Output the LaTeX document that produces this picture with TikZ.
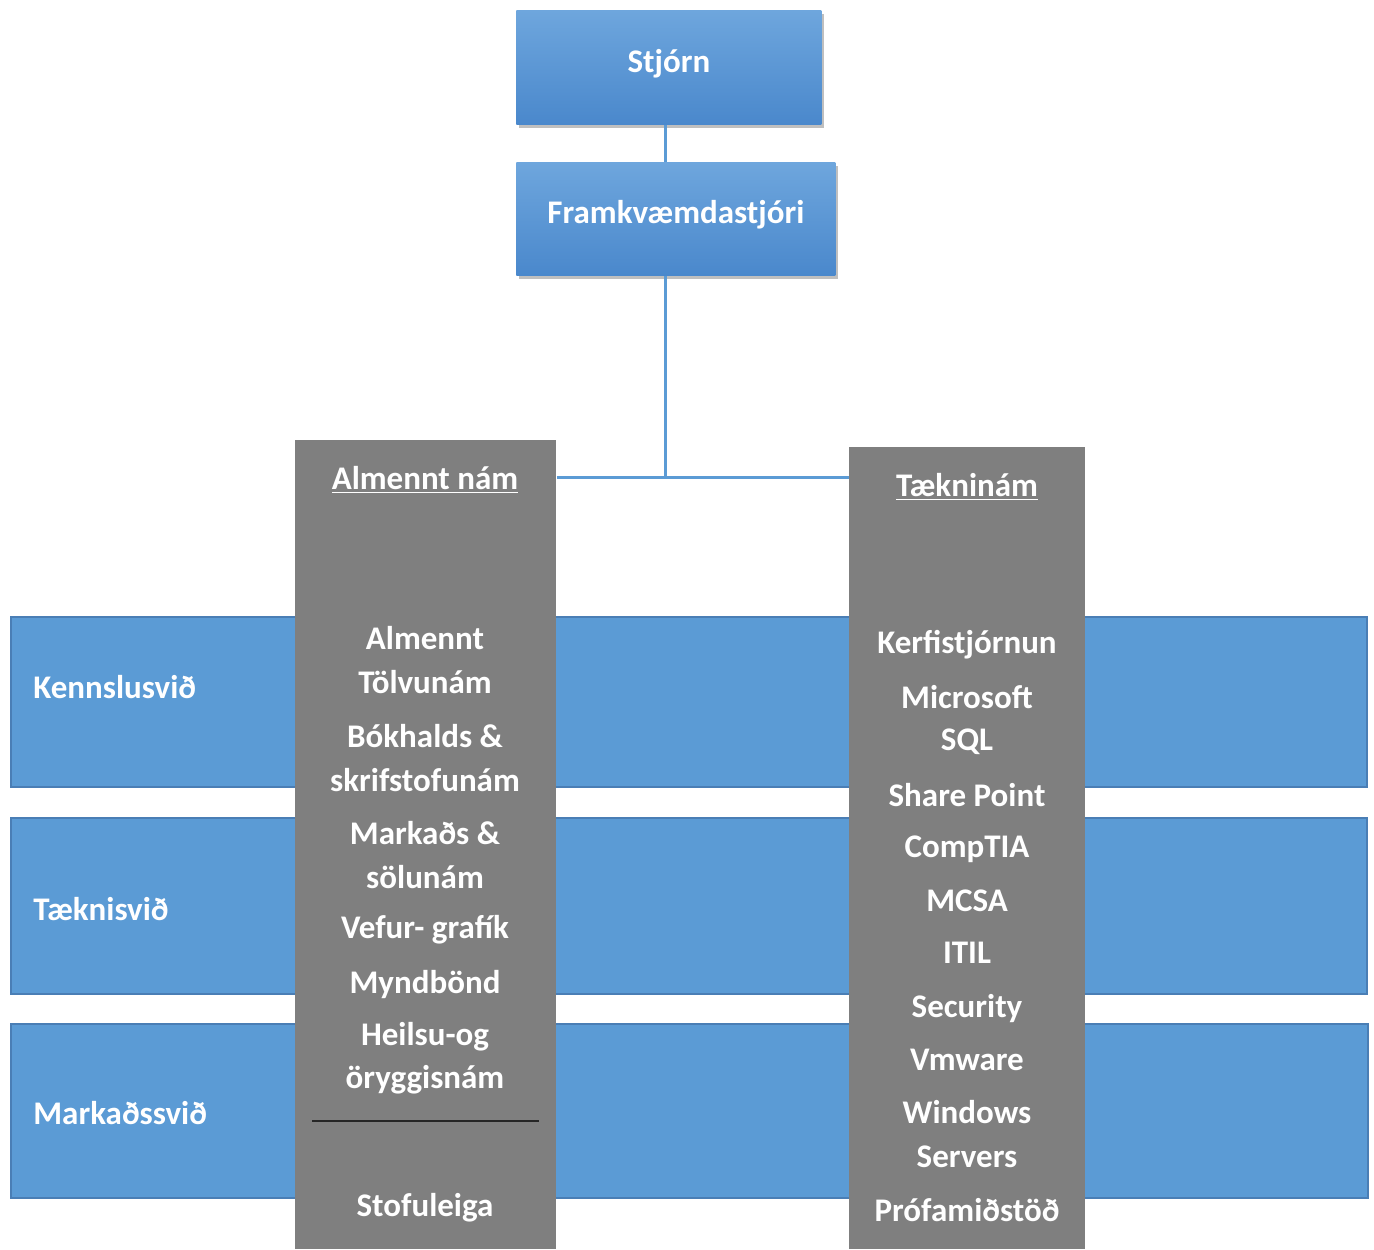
\documentclass[tikz,border=0pt]{standalone}
\usepackage{fontspec}
\setmainfont{Carlito}
\usetikzlibrary{shadows,calc}
\definecolor{bandblue}{HTML}{5B9BD5}
\definecolor{bandedge}{HTML}{4A7EB5}
\definecolor{boxtop}{HTML}{6EA6DD}
\definecolor{boxbot}{HTML}{4A88CC}
\definecolor{colgray}{HTML}{7F7F7F}
\definecolor{linkblue}{HTML}{5B9BD5}
\tikzset{
  x=0.5pt, y=-0.5pt,
  txt/.style={font=\fontsize{16.5}{19}\selectfont\bfseries, text=white, inner sep=0pt},
  topbox/.style={txt, top color=boxtop, bottom color=boxbot, draw=none,
    drop shadow={shadow xshift=1.5pt, shadow yshift=-2pt, opacity=0.5}, anchor=north west},
  band/.style={fill=bandblue, draw=bandedge, line width=1pt, anchor=north west, inner sep=0pt},
  gcol/.style={fill=colgray, draw=none, anchor=north west, inner sep=0pt},
  link/.style={draw=linkblue, line width=1.5pt},
  bandlbl/.style={txt, anchor=west},
  item/.style={txt, anchor=center},
}
\begin{document}
\begin{tikzpicture}
\useasboundingbox (0,0) rectangle (1374,1249);
% bands
\node[band, minimum width=678pt, minimum height=85pt] (b1) at (10,616) {};
\node[band, minimum width=678pt, minimum height=88pt] (b2) at (10,817) {};
\node[band, minimum width=678.5pt, minimum height=87pt] (b3) at (10,1023) {};
\node[bandlbl] (k1) at (33,687) {Kennslusvið};
\node[bandlbl] (k2) at (33,909) {Tæknisvið};
\node[bandlbl] (k3) at (33,1113) {Markaðssvið};
% gray columns
\node[gcol, minimum width=130.5pt, minimum height=404.5pt] (lc) at (295,440) {};
\node[gcol, minimum width=118pt, minimum height=401pt] (rc) at (849,447) {};
% top boxes
\node[topbox, minimum width=152.5pt, minimum height=57pt] (stjorn) at (516,10) {};
\node[txt] (stjornt) at ($(stjorn.center)+(0,-4)$) {Stjórn};
\node[topbox, minimum width=159.5pt, minimum height=56.5pt] (framk) at (516,162) {};
\node[txt] (framkt) at ($(framk.center)+(0,-4)$) {Framkvæmdastjóri};
% connectors
\coordinate (j) at (665,477);
\draw[link] (stjorn.south -| j) -- (framk.north -| j);
\draw[link] (framk.south -| j) -- (j);
\draw[link] (lc.east |- j) -- (rc.west |- j);
% left column
\node[item] (lh) at (425,480) {\underline{Almennt nám}};
\node[item] (l1) at (425,638) {Almennt};
\node[item] (l2) at (425,682) {Tölvunám};
\node[item] (l3) at (425,736) {Bókhalds \&};
\node[item] (l4) at (425,780) {skrifstofunám};
\node[item] (l5) at (425,833) {Markaðs \&};
\node[item] (l6) at (425,877) {sölunám};
\node[item] (l7) at (425,930) {Vefur- grafík};
\node[item] (l8) at (425,984) {Myndbönd};
\node[item] (l9) at (425,1037) {Heilsu-og};
\node[item] (l10) at (425,1080) {öryggisnám};
\coordinate (d1) at (312,1121);
\coordinate (d2) at (539,1121);
\draw[black!85, line width=0.8pt] (d1) -- (d2);
\node[item] (l11) at (425,1208) {Stofuleiga};
% right column
\node[item] (rh) at (967,487) {\underline{Tækninám}};
\node[item] (r1) at (967,645) {Kerfistjórnun};
\node[item] (r2) at (967,697) {Microsoft};
\node[item] (r3) at (967,742) {SQL};
\node[item] (r4) at (967,795) {Share Point};
\node[item] (r5) at (967,849) {CompTIA};
\node[item] (r6) at (967,901) {MCSA};
\node[item] (r7) at (967,953) {ITIL};
\node[item] (r8) at (967,1008) {Security};
\node[item] (r9) at (967,1060) {Vmware};
\node[item] (r10) at (967,1112) {Windows};
\node[item] (r11) at (967,1157) {Servers};
\node[item] (r12) at (967,1210) {Prófamiðstöð};
\end{tikzpicture}
\end{document}
